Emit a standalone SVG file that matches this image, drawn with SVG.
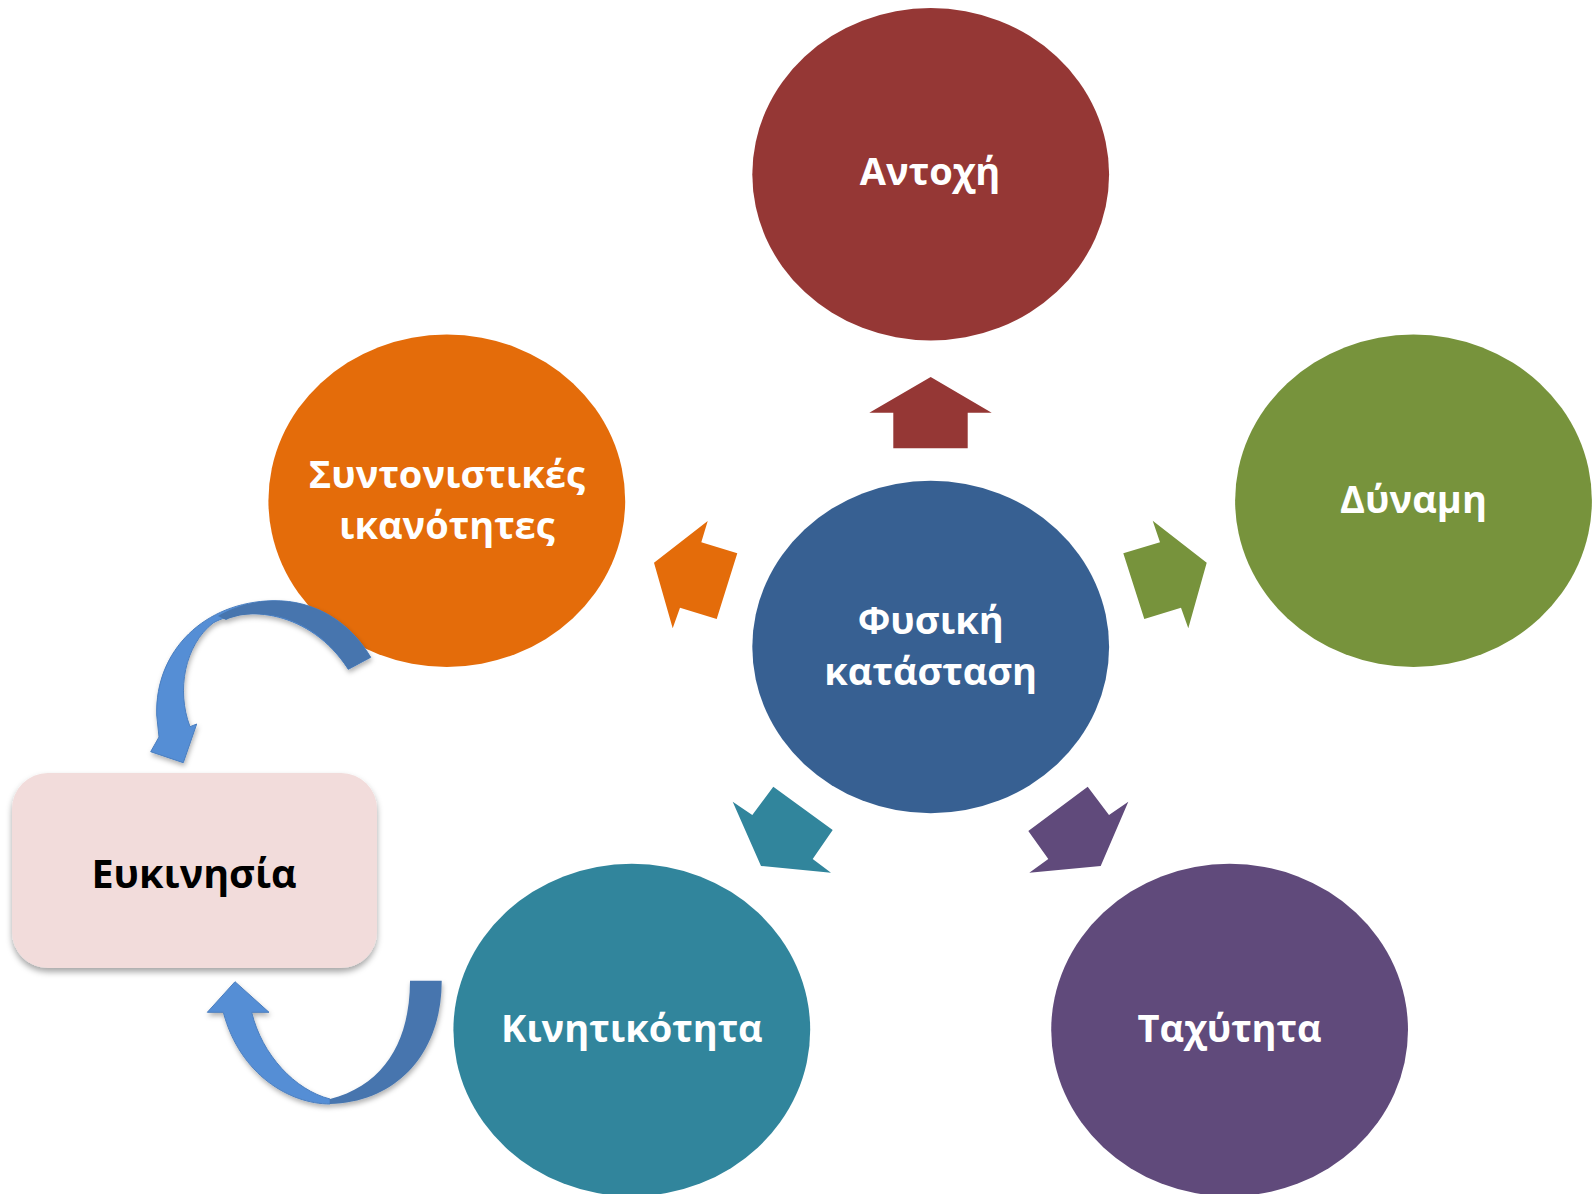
<svg xmlns="http://www.w3.org/2000/svg" width="1594" height="1194" viewBox="0 0 1594 1194">
<defs>
<filter id="sh" x="-20%" y="-20%" width="140%" height="140%">
<feDropShadow dx="0" dy="4" stdDeviation="3" flood-color="#000" flood-opacity="0.35"/>
</filter>
<filter id="sh2" x="-20%" y="-20%" width="140%" height="140%">
<feDropShadow dx="1" dy="3" stdDeviation="2.5" flood-color="#000" flood-opacity="0.3"/>
</filter>
</defs>
<style>
.lbl{font-family:"Open Sans","Noto Sans","DejaVu Sans",sans-serif;font-weight:bold;font-size:38px;fill:#fff;text-anchor:middle}
.blk{font-family:"Open Sans","Noto Sans","DejaVu Sans",sans-serif;font-weight:bold;font-size:39.5px;fill:#000;text-anchor:middle}
</style>
<rect width="1594" height="1194" fill="#fff"/>

<g id="node-antochi">
<ellipse cx="930.7" cy="174.3" rx="178.4" ry="166.2" fill="#953735"/>
<text class="lbl" x="930" y="185">Αντοχή</text>
</g>
<g id="node-syntonistikes">
<ellipse cx="446.8" cy="500.7" rx="178.4" ry="166.2" fill="#E46C0A"/>
<text class="lbl" x="446.8" y="488">Συντονιστικές</text>
<text class="lbl" x="446.8" y="539">ικανότητες</text>
</g>
<g id="node-dynami">
<ellipse cx="1413.5" cy="500.7" rx="178.4" ry="166.2" fill="#77933C"/>
<text class="lbl" x="1413.5" y="513">Δύναμη</text>
</g>
<g id="node-fysiki">
<ellipse cx="930.7" cy="647" rx="178.4" ry="166.2" fill="#376092"/>
<text class="lbl" x="930.7" y="634">Φυσική</text>
<text class="lbl" x="930.7" y="685">κατάσταση</text>
</g>
<g id="node-kinitikotita">
<ellipse cx="631.8" cy="1030" rx="178.4" ry="166.2" fill="#31859C"/>
<text class="lbl" x="631.8" y="1042">Κινητικότητα</text>
</g>
<g id="node-taxytita">
<ellipse cx="1229.6" cy="1030" rx="178.4" ry="166.2" fill="#604A7B"/>
<text class="lbl" x="1229.6" y="1042">Ταχύτητα</text>
</g>
<g id="node-eykinisia">
<rect x="12" y="773" width="365" height="195" rx="36" ry="36" fill="#F2DCDB" filter="url(#sh)"/>
<text class="blk" x="194" y="888">Ευκινησία</text>
</g>

<g id="connectors">
<polygon fill="#953735" points="930.7,377 991.7,412.7 967.7,412.7 967.7,448.3 893.3,448.3 893.3,412.7 869.3,412.7"/>
<polygon fill="#E46C0A" points="707.7,521 654,562.7 672.7,628.3 680,607.7 716.7,619 737.3,553.3 701.3,542.3"/>
<polygon fill="#77933C" points="1152.7,520.7 1206.7,562.7 1188.3,628.3 1181,607.7 1144.3,619 1123.3,553.3 1160,542.3"/>
<polygon fill="#31859C" points="732.7,801.7 752.3,815 773.3,786.7 832.7,830 812.7,859 831,872.7 761,866"/>
<polygon fill="#604A7B" points="1087.7,786.7 1109,815 1128.3,801.7 1100.7,866 1029.3,872.7 1048.3,859 1028.3,831"/>
<g id="curved-top" filter="url(#sh2)">
<path fill="#558ED5" stroke="#4A7EBF" stroke-width="1" d="M370.7,657.3 C350,622 315,600 273,600.7 C205,602 155,650 156.7,715 L159,737 L150.7,751.7 L183.3,762.7 L196.7,724 L190,726.7 C176,690 185,645 213,623 C245,605 310,610 348.3,669.3 Z"/>
<path fill="#4675AE" d="M370.7,657.3 C350,622 315,600 273,600.7 C252,601 233,607 218,616 L226,620 C255,607 312,612 348.3,669.3 Z"/>
</g>
<g id="curved-bottom" filter="url(#sh2)">
<path fill="#558ED5" stroke="#4A7EBF" stroke-width="1" d="M330,1104 C290,1104 240,1075 223.3,1012.3 L207.3,1012.3 L235,981.7 L269,1012.3 L251.7,1012.3 C262,1055 295,1090 330,1099 Z"/>
<path fill="#4675AE" d="M441.7,980.7 L410,980.7 C410,1040 385,1085 330,1099 L330,1104 C400,1102 442,1050 441.7,980.7 Z"/>
</g>
</g>
</svg>
